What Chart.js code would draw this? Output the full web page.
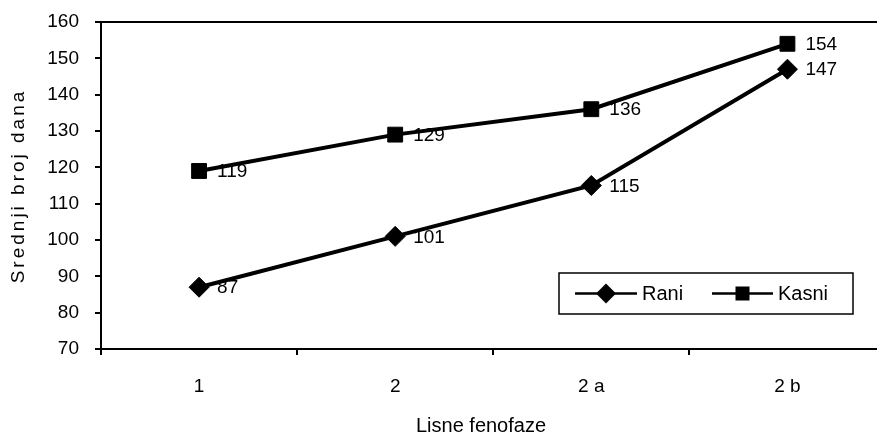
<!DOCTYPE html>
<html>
<head>
<meta charset="utf-8">
<script src="https://cdn.jsdelivr.net/npm/chart.js@4/dist/chart.umd.min.js"></script>
<style>
  html, body { margin: 0; padding: 0; background: #fff; overflow: hidden; }
  canvas { display: block; }
</style>
</head>
<body>
<canvas id="myChart" width="897" height="435"></canvas>
<script>
var faze = ['1', '2', '2 a', '2 b'];
var rani = [87, 101, 115, 147];
var kasni = [119, 129, 136, 154];
var yTicks = [70, 80, 90, 100, 110, 120, 130, 140, 150, 160];

var font = 'Liberation Sans, Arial, sans-serif';

// brojevi desno od tocaka
var labelePlugin = {
    id: 'labele',
    afterDatasetsDraw: function(chart) {
        var ctx = chart.ctx;
        ctx.save();
        ctx.fillStyle = '#000';
        ctx.font = '19px ' + font;
        ctx.textAlign = 'left';
        ctx.textBaseline = 'middle';
        chart.data.datasets.forEach(function(ds, i) {
            var meta = chart.getDatasetMeta(i);
            meta.data.forEach(function(pt, j) {
                ctx.fillText(ds.data[j], pt.x + 18, pt.y + 1);
            });
        });
        ctx.restore();
    }
};

// naslovi osi
var nasloviPlugin = {
    id: 'naslovi',
    afterDraw: function(chart) {
        var ctx = chart.ctx;
        ctx.save();
        ctx.fillStyle = '#000';
        ctx.textAlign = 'center';
        ctx.textBaseline = 'middle';
        ctx.font = '20px ' + font;
        ctx.fillText('Lisne fenofaze', 481, 426);
        ctx.translate(19, 186);
        ctx.rotate(-Math.PI / 2);
        ctx.font = '19px ' + font;
        if ('letterSpacing' in ctx) ctx.letterSpacing = '3px';
        ctx.fillText('Srednji broj dana', 0, 0);
        ctx.restore();
    }
};

// legenda unutar grafa
var legendaPlugin = {
    id: 'legenda',
    afterDraw: function(chart) {
        var ctx = chart.ctx;
        var x0 = 559, y0 = 273, w = 294, h = 41;
        ctx.save();
        ctx.lineWidth = 1.5;
        ctx.strokeStyle = '#000';
        ctx.fillStyle = '#fff';
        ctx.fillRect(x0, y0, w, h);
        ctx.strokeRect(x0, y0, w, h);
        var cy = y0 + h / 2;
        var items = [
            {x1: 575, x2: 637, tx: 642},
            {x1: 712, x2: 773, tx: 778}
        ];
        ctx.font = '20px ' + font;
        ctx.textBaseline = 'middle';
        chart.data.datasets.forEach(function(ds, i) {
            var it = items[i];
            ctx.lineWidth = 2.5;
            ctx.beginPath();
            ctx.moveTo(it.x1, cy);
            ctx.lineTo(it.x2, cy);
            ctx.stroke();
            var mx = (it.x1 + it.x2) / 2;
            ctx.fillStyle = '#000';
            ctx.beginPath();
            if (ds.pointStyle === 'rectRot') {
                ctx.moveTo(mx, cy - 10);
                ctx.lineTo(mx + 10, cy);
                ctx.lineTo(mx, cy + 10);
                ctx.lineTo(mx - 10, cy);
                ctx.closePath();
                ctx.fill();
            } else {
                ctx.fillRect(mx - 7, cy - 7, 14, 14);
            }
            ctx.fillText(ds.label, it.tx, cy + 1);
        });
        ctx.restore();
    }
};

var ctx = document.getElementById('myChart').getContext('2d');
var chart = new Chart(ctx, {
    type: 'line',
    data: {
        labels: faze,
        datasets: [{
            label: 'Rani',
            data: rani,
            borderColor: '#000',
            backgroundColor: '#000',
            borderWidth: 4,
            pointStyle: 'rectRot',
            pointRadius: 10,
            pointBorderWidth: 1,
            tension: 0
        }, {
            label: 'Kasni',
            data: kasni,
            borderColor: '#000',
            backgroundColor: '#000',
            borderWidth: 4,
            pointStyle: 'rect',
            pointRadius: 10.5,
            pointBorderWidth: 1,
            tension: 0
        }]
    },
    options: {
        responsive: false,
        animation: false,
        layout: { padding: { top: 22, left: 2, right: 0, bottom: 0 } },
        plugins: {
            legend: { display: false },
            tooltip: { enabled: false }
        },
        scales: {
            x: {
                offset: true,
                grid: { offset: true, color: 'transparent', tickColor: '#000', tickLength: 6, lineWidth: 2 },
                border: { display: true, color: '#000', width: 2 },
                ticks: { color: '#000', font: { family: font, size: 19 }, padding: 20, maxRotation: 0 },
                title: { display: false },
                afterFit: function(scale) {
                    scale.height = 86;
                    scale.paddingLeft = 0;
                    scale.paddingRight = 0;
                }
            },
            y: {
                min: 70,
                max: 160,
                afterBuildTicks: function(scale) {
                    scale.ticks = yTicks.map(function(v) { return { value: v }; });
                },
                grid: {
                    color: function(c) { return c.tick && c.tick.value === 160 ? '#000' : 'transparent'; },
                    tickColor: '#000',
                    tickLength: 6,
                    lineWidth: 2
                },
                border: { display: true, color: '#000', width: 2 },
                ticks: { color: '#000', font: { family: font, size: 19 }, padding: 16 },
                title: { display: false },
                afterFit: function(scale) {
                    scale.width = 99;
                    scale.paddingTop = 0;
                    scale.paddingBottom = 0;
                }
            }
        }
    },
    plugins: [labelePlugin, nasloviPlugin, legendaPlugin]
});
</script>
</body>
</html>
